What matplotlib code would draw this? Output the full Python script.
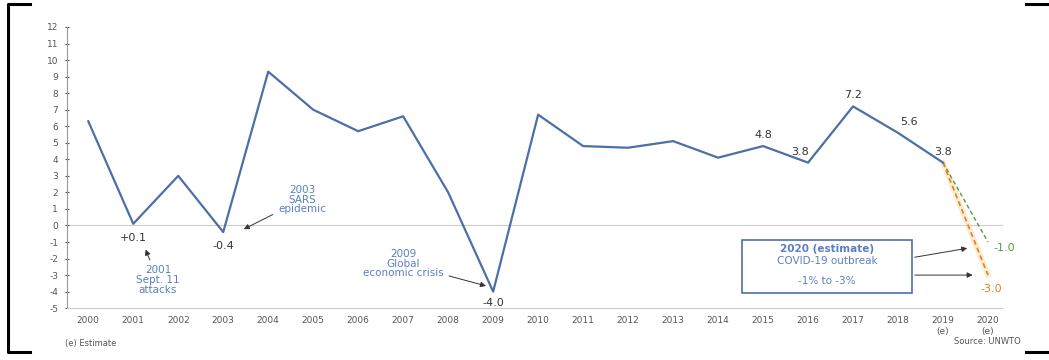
import matplotlib.pyplot as plt
from matplotlib.lines import Line2D

plt.rcParams['axes.unicode_minus'] = False

# International tourist arrivals, % change
years = list(range(2000, 2020))
growth = [6.3, 0.1, 3.0, -0.4, 9.3, 7.0, 5.7, 6.6, 2.0, -4.0,
          6.7, 4.8, 4.7, 5.1, 4.1, 4.8, 3.8, 7.2, 5.6, 3.8]
tick_labels = [str(y) for y in years[:-1]] + ['2019\n(e)', '2020\n(e)']
est_low = -3.0
est_high = -1.0

# labelled points: year -> (text, dx, dy) in points
value_labels = {2001: ('+0.1', 0, -10), 2003: ('-0.4', 0, -10), 2009: ('-4.0', 0, -8),
                2015: ('4.8', 0, 8), 2016: ('3.8', -6, 8), 2017: ('7.2', 0, 8),
                2018: ('5.6', 8, 8), 2019: ('3.8', 0, 8)}

blue = '#4d6fa8'
txt_blue = '#5b7fbf'
grey = '#555555'

fig = plt.figure(figsize=(10.49, 3.6), dpi=100)
ax = fig.add_axes([0.064, 0.144, 0.892, 0.781])

ax.axhline(0, color='#cccccc', lw=0.8, zorder=0)
ax.plot(years, growth, color=blue, lw=1.6, zorder=3)
ax.plot([2019, 2020], [growth[-1], est_high], color='#5a9a3c', lw=1.0, ls=(0, (3, 2)), zorder=2)
ax.plot([2019, 2020], [growth[-1], est_low], color='#e8801a', lw=1.2, ls=(0, (3, 2)), zorder=2)
ax.plot([2019, 2020], [growth[-1], est_low], color='#f6d9a8', lw=4, alpha=0.5, zorder=1)

for yr, (t, dx, dy) in value_labels.items():
    v = growth[years.index(yr)]
    ax.annotate(t, (yr, v), xytext=(dx, dy), textcoords='offset points',
                ha='center', va='center', fontsize=8, color='#333333')
ax.annotate('-1.0', (2020, est_high), xytext=(12, -4), textcoords='offset points',
            ha='center', va='center', fontsize=8, color='#5a9a3c')
ax.annotate('-3.0', (2020, est_low), xytext=(2, -10), textcoords='offset points',
            ha='center', va='center', fontsize=8, color='#e8801a')

arrow = dict(arrowstyle='-|>', color='#333333', lw=0.7, mutation_scale=8)
ax.annotate('2001\nSept. 11\nattacks', xy=(2001.25, -1.3), xytext=(2001.55, -3.3),
            ha='center', va='center', fontsize=7.5, color=txt_blue, linespacing=0.95,
            arrowprops=arrow)
ax.annotate('2003\nSARS\nepidemic', xy=(2003.4, -0.3), xytext=(2004.75, 1.55),
            ha='center', va='center', fontsize=7.5, color=txt_blue, linespacing=0.95,
            arrowprops=arrow)
ax.annotate('2009\nGlobal\neconomic crisis', xy=(2008.9, -3.7), xytext=(2007.0, -2.3),
            ha='center', va='center', fontsize=7.5, color=txt_blue, linespacing=0.95,
            arrowprops=arrow)

ax.text(2016.42, -1.4, '2020 (estimate)', ha='center', va='center', fontsize=7.5,
        color=txt_blue, fontweight='bold')
ax.text(2016.42, -2.15, 'COVID-19 outbreak', ha='center', va='center', fontsize=7.5,
        color=txt_blue)
ax.text(2016.42, -3.35, '-1% to -3%', ha='center', va='center', fontsize=7.5, color=txt_blue)
ax.add_patch(plt.Rectangle((2014.53, -4.08), 3.78, 3.22, fill=False, ec=blue, lw=1.2, zorder=4))
ax.annotate('', xy=(2019.6, -1.35), xytext=(2018.31, -1.95), arrowprops=arrow)
ax.annotate('', xy=(2019.72, -3.0), xytext=(2018.31, -3.0), arrowprops=arrow)

ax.set_xlim(1999.53, 2020.33)
ax.set_ylim(-5, 12)
ax.set_yticks(range(-5, 13))
ax.set_xticks(years + [2020])
ax.set_xticklabels(tick_labels)
ax.tick_params(axis='x', length=0, labelsize=6.5, colors=grey, pad=6)
ax.tick_params(axis='y', length=3, direction='inout', labelsize=6.5, colors=grey, pad=5)
for s in ['top', 'right']:
    ax.spines[s].set_visible(False)
ax.spines['left'].set_color('#999999')
ax.spines['bottom'].set_color('#cccccc')
ax.spines['bottom'].set_linestyle((0, (2, 1)))

fig.text(0.062, 0.04, '(e) Estimate', fontsize=6, color=grey)
fig.text(0.973, 0.045, 'Source: UNWTO', fontsize=6, color=grey, ha='right')

# black frame corners
for xs, ys in [([0.029, 0.008, 0.008, 0.029], [0.99, 0.99, 0.022, 0.022]),
               ([0.978, 0.999], [0.99, 0.99]), ([0.978, 0.999], [0.022, 0.022])]:
    fig.add_artist(Line2D(xs, ys, color='black', lw=2.2, transform=fig.transFigure))

fig.savefig('out.png', dpi=100)
